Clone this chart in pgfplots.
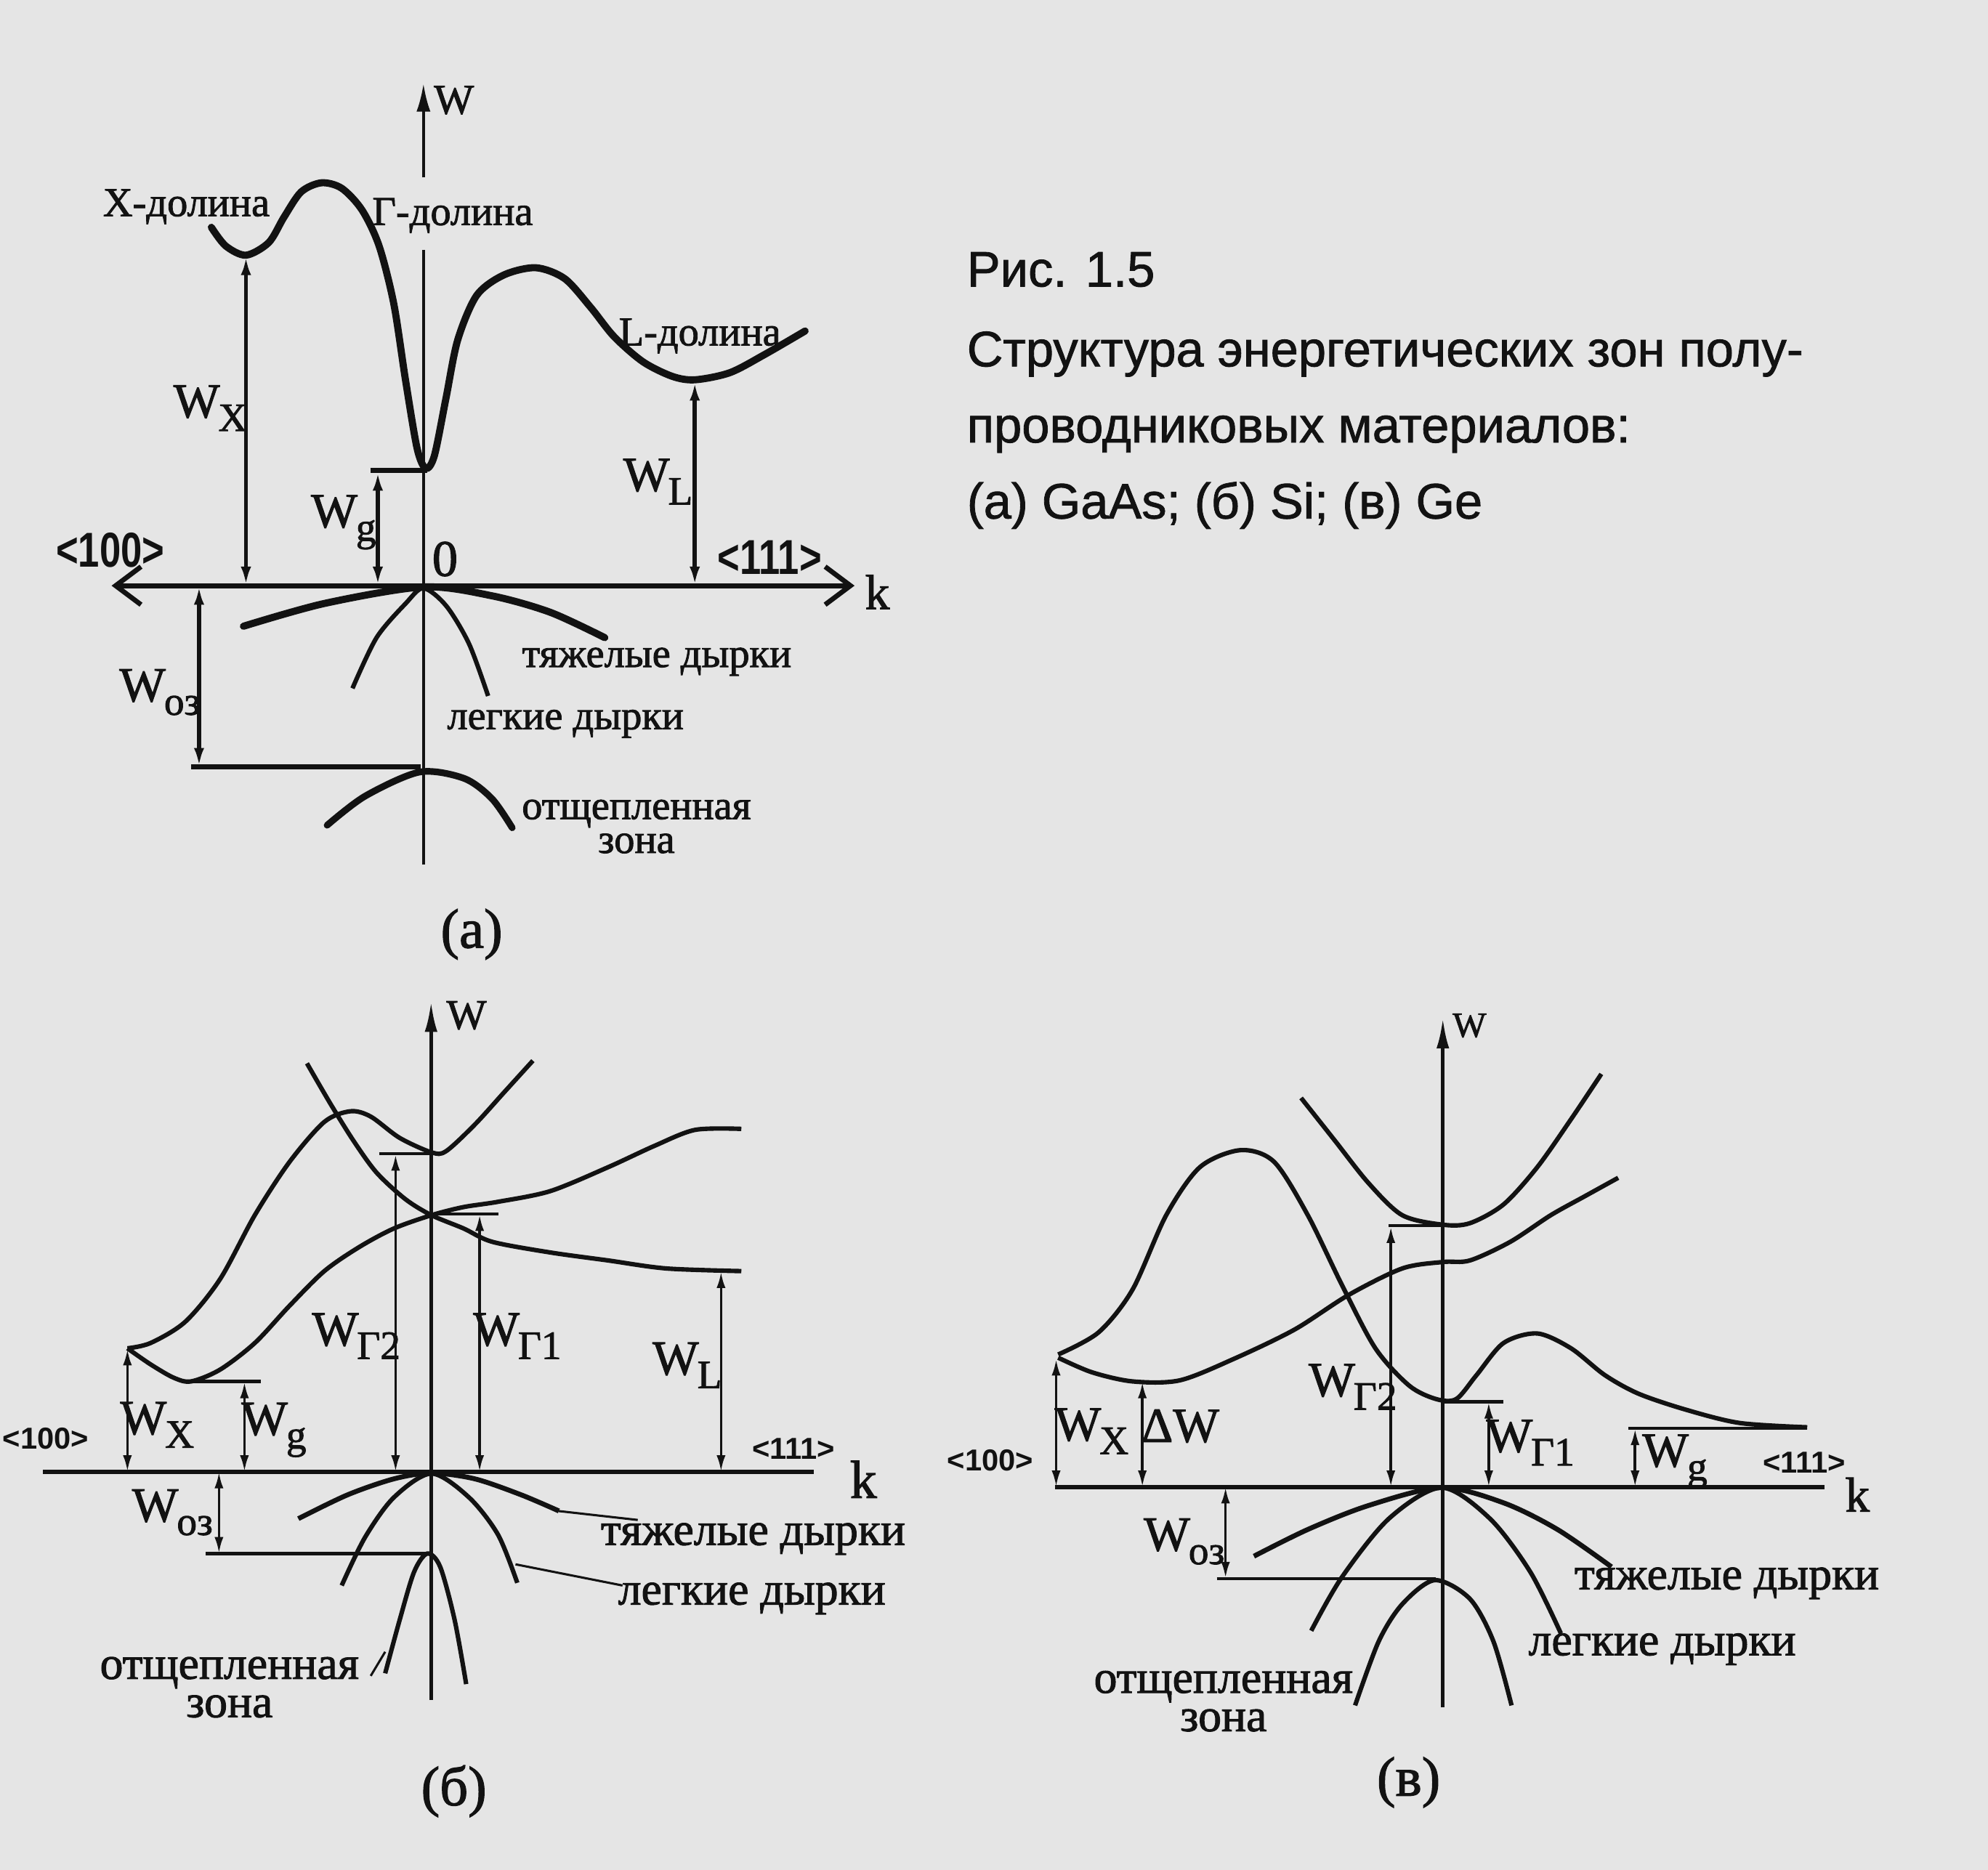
\documentclass[border=0pt]{standalone}
\usepackage{pgfplots}
\pgfplotsset{compat=1.18}
\usepackage{fontspec}
\setmainfont[FakeBold=1.6]{Liberation Serif}
\newfontfamily\capfont[FakeBold=1.2]{Liberation Sans}
\newfontfamily\capfontb{Liberation Sans Bold}
\usetikzlibrary{arrows.meta}
\definecolor{paper}{RGB}{229,229,229}
\definecolor{ink}{RGB}{18,18,18}
\newcommand\fs[1]{\fontsize{#1}{#1}\selectfont}
\newcommand\Ws[1]{W\kern-0.03em\raisebox{-0.6ex}{\scalebox{0.82}{#1}}}
\tikzset{
  tipA/.tip={Latex[length=1.5mm,width=0.8mm]},
  dima/.style={line width=0.9pt, tipA-tipA},
  dimb/.style={line width=0.6pt, {Latex[length=1.3mm,width=0.7mm]}-{Latex[length=1.3mm,width=0.7mm]}},
  lbl/.style={text=ink, inner sep=0pt},
}
\begin{document}
\begin{tikzpicture}
\fill[paper] (0,0) rectangle (15.68cm,14.75cm);
\begin{axis}[
  scale only axis, width=15.68cm, height=14.75cm,
  xmin=0, xmax=1568, ymin=0, ymax=1475, y dir=reverse,
  axis lines=none, clip=false,
]
% ================= panel (a) =================
\addplot[ink, line width=0.6pt, -{Latex[length=2.2mm,width=1.1mm]}] coordinates {(334,140) (334,66)};
\addplot[ink, line width=0.6pt] coordinates {(334,197) (334,682)};
\addplot[ink, line width=1.1pt, {Straight Barb[length=2mm,width=3mm]}-{Straight Barb[length=2mm,width=3mm]}] coordinates {(88,462) (674,462)};
\addplot[ink, line width=1.6pt, smooth, line cap=round] coordinates {
 (166.7,179.3) (178,194) (194,201.3) (212,191.3) (224,171.3) (237.5,151.4) (253.5,144.2)
 (269.5,148.5) (285.5,165.6) (299,194) (310.6,239.7) (319.8,299.6) (329,353.8) (335.8,369.4)
 (342.6,359.5) (351.8,313.9) (361,268.2) (376,233) (397.4,216.9) (422.6,211.2) (445.4,219.8)
 (466,242.6) (484.2,265.4) (507,285.3) (530,296.8) (548,299.6) (575.6,294) (603,279.7) (635,261.1)};
\addplot[ink, dima] coordinates {(194,462) (194,202)};
\addplot[ink, dima] coordinates {(298,462) (298,372)};
\addplot[ink, line width=1.1pt] coordinates {(292,371) (337,371)};
\addplot[ink, dima] coordinates {(548,462) (548,301)};
\addplot[ink, dima] coordinates {(157,462) (157,605)};
\addplot[ink, line width=1.1pt] coordinates {(151,605) (332,605)};
\addplot[ink, line width=1.6pt, smooth, line cap=round] coordinates {
 (192,494) (256,476) (334,463) (388,470) (434,483) (477,503)};
\addplot[ink, line width=1.0pt, smooth] coordinates {
 (278,543) (297,503) (320,476) (334,464) (352,478) (370,508) (385,549)};
\addplot[ink, line width=1.5pt, smooth, line cap=round] coordinates {
 (258,651) (288,628) (331,609) (366,614) (388,630) (404,653)};
\node[lbl, font=\fs{9.5}] at (axis cs:358,79) {W};
\node[lbl, font=\fs{9.2}] at (axis cs:147,163) {X-долина};
\node[lbl, font=\fs{9.2}] at (axis cs:357,170) {Г-долина};
\node[lbl, font=\fs{9.2}] at (axis cs:552,265) {L-долина};
\node[lbl, font=\fs{11}] at (axis cs:166,322) {\Ws{X}};
\node[lbl, font=\fs{11}] at (axis cs:271,412) {\Ws{g}};
\node[lbl, font=\fs{11}] at (axis cs:519,380) {\Ws{L}};
\node[lbl, font=\fs{11}] at (axis cs:126,546) {\Ws{оз}};
\node[lbl, font=\capfontb\fs{11}] at (axis cs:87,434) {\scalebox{0.78}[1]{<100>}};
\node[lbl, font=\capfontb\fs{11}] at (axis cs:607,440) {\scalebox{0.78}[1]{<111>}};
\node[lbl, font=\fs{11.5}] at (axis cs:351,441) {0};
\node[lbl, font=\fs{11}] at (axis cs:692,467) {k};
\node[lbl, font=\fs{9.2}] at (axis cs:518,522) {тяжелые дырки};
\node[lbl, font=\fs{9.2}] at (axis cs:446,571) {легкие дырки};
\node[lbl, font=\fontsize{9.2}{7.6}\selectfont, align=center] at (axis cs:502,652) {отщепленная\\зона};
\node[lbl, font=\fs{12.5}] at (axis cs:372,737) {(а)};
% ================= panel (б) =================
\addplot[ink, line width=0.8pt, -{Latex[length=2.4mm,width=1mm]}] coordinates {(340,1341) (340,790)};
\addplot[ink, line width=0.9pt] coordinates {(34,1161) (642,1161)};
\addplot[ink, line width=1.0pt, smooth] coordinates {
 (100.5,1063.6) (118.8,1059.4) (146.2,1042.6) (173.6,1009) (201,958.5) (228.4,916.5) (255.8,885)
 (276.4,876.6) (292.4,880.8) (315.2,897.6) (340.3,909) (351.8,908.1) (374.6,887) (397.4,861.9) (420.3,836.7)};
\addplot[ink, line width=1.0pt, smooth] coordinates {
 (242.1,838.8) (260.4,870.3) (278.7,899.7) (297,925) (319.8,946) (340.3,958.6) (365.5,969)
 (388.3,979.6) (434,988) (479.7,994.3) (525.4,1000.6) (584.7,1002.7)};
\addplot[ink, line width=1.0pt, smooth] coordinates {
 (100.5,1063.6) (118.8,1076.3) (137,1086.8) (150.8,1089.7) (173.6,1080.4) (201,1059.4) (228.4,1030)
 (255.8,1002.7) (283.2,983.8) (310.6,969.1) (340.3,958.6) (365.5,952.2) (392.9,948) (434,939.6)
 (479.7,920.7) (516.2,903.9) (548.2,891.3) (584.7,890.5)};
\addplot[ink, dimb] coordinates {(100.5,1161) (100.5,1064)};
\addplot[ink, line width=0.7pt] coordinates {(150.8,1089.7) (205.6,1089.7)};
\addplot[ink, dimb] coordinates {(192.8,1161) (192.8,1090)};
\addplot[ink, line width=0.7pt] coordinates {(299,910) (340,910)};
\addplot[ink, dimb] coordinates {(312,910.5) (312,1161)};
\addplot[ink, line width=0.7pt] coordinates {(340,957.7) (393,957.7)};
\addplot[ink, dimb] coordinates {(378.3,958) (378.3,1161)};
\addplot[ink, dimb] coordinates {(568.7,1003) (568.7,1161)};
\addplot[ink, dimb] coordinates {(172.7,1161) (172.7,1225.5)};
\addplot[ink, line width=0.7pt] coordinates {(162.2,1225.5) (338,1225.5)};
\addplot[ink, line width=1.1pt, smooth] coordinates {
 (235.3,1198) (274.1,1179.2) (310.6,1166.6) (340.3,1162) (374.6,1166.6) (411.1,1179.2) (440.8,1191.9)};
\addplot[ink, line width=0.5pt] coordinates {(440.8,1192) (503,1199)};
\addplot[ink, line width=1.0pt, smooth] coordinates {
 (269.5,1250.7) (287.8,1212.9) (310.6,1181.3) (340.3,1162.4) (370,1181.3) (392.9,1210.8) (408,1248.6)};
\addplot[ink, line width=0.5pt] coordinates {(406.6,1234) (491,1250.7)};
\addplot[ink, line width=1.0pt, smooth] coordinates {
 (303.8,1320) (315.2,1278) (326.6,1240) (337,1225.5) (347.2,1236) (358.6,1278) (367.7,1328.5)};
\addplot[ink, line width=0.5pt] coordinates {(292.4,1322) (303.8,1303)};
\node[lbl, font=\fs{9.5}] at (axis cs:368,801) {W};
\node[lbl, font=\fs{12}] at (axis cs:681,1167) {k};
\node[lbl, font=\capfontb\fs{6.8}] at (axis cs:36,1135) {<100>};
\node[lbl, font=\capfontb\fs{6.8}] at (axis cs:626,1143) {<111>};
\node[lbl, font=\fs{11}] at (axis cs:124,1124) {\Ws{X}};
\node[lbl, font=\fs{11}] at (axis cs:216,1128) {\Ws{g}};
\node[lbl, font=\fs{11}] at (axis cs:281,1054) {\Ws{Г2}};
\node[lbl, font=\fs{11}] at (axis cs:408,1054) {\Ws{Г1}};
\node[lbl, font=\fs{11}] at (axis cs:542,1077) {\Ws{L}};
\node[lbl, font=\fs{11}] at (axis cs:136,1193) {\Ws{оз}};
\node[lbl, font=\fs{10.4}] at (axis cs:594,1214) {тяжелые дырки};
\node[lbl, font=\fs{10.4}] at (axis cs:593,1261) {легкие дырки};
\node[lbl, font=\fontsize{10.4}{8.6}\selectfont, align=center] at (axis cs:181,1331) {отщепленная\\зона};
\node[lbl, font=\fs{12.5}] at (axis cs:358,1413) {(б)};
% ================= panel (в) =================
\addplot[ink, line width=0.8pt, -{Latex[length=2.4mm,width=1mm]}] coordinates {(1138,1347) (1138,803)};
\addplot[ink, line width=0.9pt] coordinates {(832,1173) (1439,1173)};
\addplot[ink, line width=1.0pt, smooth] coordinates {
 (1026.2,866.1) (1052.8,899.7) (1079.4,933.3) (1106,958.6) (1138,966.1) (1159.3,964.9)
 (1185.9,950.1) (1212.5,920.7) (1239.1,882.9) (1263,847.2)};
\addplot[ink, line width=1.0pt, smooth] coordinates {
 (834.6,1068.5) (866.5,1051) (893.2,1017.4) (919.8,958.6) (946.4,920.7) (978.3,907.3) (1004.9,916.5)
 (1031.5,958.6) (1058.2,1013.2) (1084.8,1063.6) (1111.4,1093) (1132.6,1103.6) (1148.6,1103.6)
 (1164.6,1084.7) (1185.9,1059.4) (1212.5,1051.9) (1239.1,1063.6) (1265.7,1084.7) (1292.3,1099.4)
 (1329.6,1112) (1372.1,1122.5) (1425.4,1125.9)};
\addplot[ink, line width=1.0pt, smooth] coordinates {
 (834.6,1071) (861.2,1082.5) (893.2,1089.7) (930.4,1088.9) (973,1072) (1020.9,1048.9) (1063.5,1021.6)
 (1106,1000.6) (1138,995.5) (1159.3,994.3) (1191.2,979.6) (1223.1,958.6) (1249.7,943.8) (1276.3,929.1)};
\addplot[ink, dimb] coordinates {(833,1173) (833,1072)};
\addplot[ink, dimb] coordinates {(901,1173) (901,1090)};
\addplot[ink, line width=0.7pt] coordinates {(1095.4,967) (1138,967)};
\addplot[ink, dimb] coordinates {(1097,967.5) (1097,1173)};
\addplot[ink, line width=0.7pt] coordinates {(1138,1105.7) (1186,1105.7)};
\addplot[ink, dimb] coordinates {(1174.2,1106) (1174.2,1173)};
\addplot[ink, line width=0.7pt] coordinates {(1284.3,1126.7) (1425.4,1126.7)};
\addplot[ink, dimb] coordinates {(1289.6,1127) (1289.6,1173)};
\addplot[ink, dimb] coordinates {(966.6,1173) (966.6,1245)};
\addplot[ink, line width=0.7pt] coordinates {(959.7,1245.2) (1132.6,1245.2)};
\addplot[ink, line width=1.1pt, smooth] coordinates {
 (989,1227.6) (1031.5,1206.5) (1079.4,1187.6) (1137,1173.5) (1185.9,1185.5) (1228.4,1206.5) (1271,1236)};
\addplot[ink, line width=1.0pt, smooth] coordinates {
 (1034.2,1286.4) (1058.2,1244.4) (1095.4,1198) (1137,1173.5) (1175.2,1198) (1207.1,1240.2) (1231.1,1288.5)};
\addplot[ink, line width=1.0pt, smooth] coordinates {
 (1068.8,1345.3) (1087.4,1294.8) (1106,1265.4) (1131.6,1246.5) (1159.3,1261.2) (1177.9,1294.8) (1192.2,1345.3)};
\node[lbl, font=\fs{8}] at (axis cs:1159,809) {W};
\node[lbl, font=\fs{11}] at (axis cs:1465,1179) {k};
\node[lbl, font=\capfontb\fs{6.8}] at (axis cs:781,1152) {<100>};
\node[lbl, font=\capfontb\fs{6.8}] at (axis cs:1423,1154) {<111>};
\node[lbl, font=\fs{11}] at (axis cs:861,1129) {\Ws{X}};
\node[lbl, font=\fs{11}] at (axis cs:931,1125) {ΔW};
\node[lbl, font=\fs{11}] at (axis cs:1067,1094) {\Ws{Г2}};
\node[lbl, font=\fs{11}] at (axis cs:1207,1138) {\Ws{Г1}};
\node[lbl, font=\fs{11}] at (axis cs:1321,1153) {\Ws{g}};
\node[lbl, font=\fs{11}] at (axis cs:934,1216) {\Ws{оз}};
\node[lbl, font=\fs{10.4}] at (axis cs:1362,1249) {тяжелые дырки};
\node[lbl, font=\fs{10.4}] at (axis cs:1311,1301) {легкие дырки};
\node[lbl, font=\fontsize{10.4}{8.6}\selectfont, align=center] at (axis cs:965,1342) {отщепленная\\зона};
\node[lbl, font=\fs{12.5}] at (axis cs:1111,1406) {(в)};
% ================= caption =================
\node[lbl, anchor=base west, font=\capfont\fs{11.2}] at (axis cs:762,226) {Рис. 1.5};
\node[lbl, anchor=base west, font=\capfont\fs{11.2}] at (axis cs:762,289) {Структура энергетических зон полу-};
\node[lbl, anchor=base west, font=\capfont\fs{11.2}] at (axis cs:762,349) {проводниковых материалов:};
\node[lbl, anchor=base west, font=\capfont\fs{11.2}] at (axis cs:762,409) {(а) GaAs; (б) Si; (в) Ge};
\end{axis}
\pgfresetboundingbox
\path (0,0) rectangle (15.68cm,14.75cm);
\end{tikzpicture}
\end{document}
